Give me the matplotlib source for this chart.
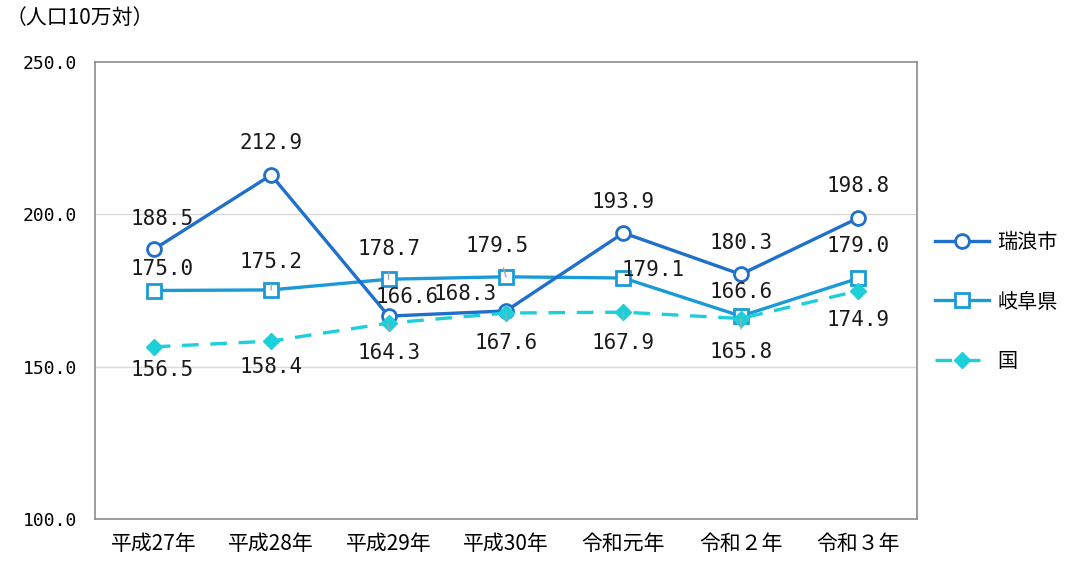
import matplotlib
matplotlib.use("Agg")
import matplotlib.pyplot as plt

plt.rcParams['font.family'] = ['Noto Sans CJK JP', 'DejaVu Sans']

categories = ["平成27年", "平成28年", "平成29年", "平成30年", "令和元年", "令和２年", "令和３年"]
mizunami = [188.5, 212.9, 166.6, 168.3, 193.9, 180.3, 198.8]
gifu = [175.0, 175.2, 178.7, 179.5, 179.1, 166.6, 179.0]
kuni = [156.5, 158.4, 164.3, 167.6, 167.9, 165.8, 174.9]
series_names = ["瑞浪市", "岐阜県", "国"]
yticks = [100, 150, 200, 250]

c1 = "#1f6fcc"
c2 = "#1a9bd7"
c3 = "#1ccfd9"
numfont = ['DejaVu Sans Mono']

fig = plt.figure(figsize=(10.67, 5.63), dpi=100)
ax = fig.add_axes([95/1067, 1-519/563, 822/1067, 457/563])

x = list(range(len(categories)))
l1, = ax.plot(x, mizunami, color=c1, lw=2.4, marker='o', ms=10, mfc='white', mec=c1, mew=2, label=series_names[0], zorder=4)
l2, = ax.plot(x, gifu, color=c2, lw=2.4, marker='s', ms=10, mfc='white', mec=c2, mew=2, label=series_names[1], zorder=3)
l3, = ax.plot(x, kuni, color=c3, lw=2.4, ls=(0, (5, 3.5)), marker='D', ms=8, mfc=c3, mec=c3, label=series_names[2], zorder=5)

ax.set_xlim(-0.5, 6.5)
ax.set_ylim(100, 250)
ax.set_yticks(yticks)
ax.set_yticklabels([f"{v:.1f}" for v in yticks], fontsize=13, family=numfont)
ax.set_xticks(x)
ax.set_xticklabels(categories, fontsize=15)
ax.tick_params(length=0)
ax.tick_params(axis='x', pad=10)
ax.tick_params(axis='y', pad=13)
for y in [150, 200]:
    ax.axhline(y, color='#d9d9d9', lw=1, zorder=1)
for s in ax.spines.values():
    s.set_color('#8c8c8c')
    s.set_linewidth(1.2)

# label offsets in pixels (dx, dy), dy positive = up
off1 = [(8, 30), (0, 32), (18, 19), (-41, 17), (0, 31), (0, 31), (0, 32)]
off2 = [(8, 21), (0, 28), (0, 30), (-9, 31), (30, 8), (0, 24), (0, 32)]
off3 = [(8, -23), (0, -26), (0, -30), (0, -30), (0, -31), (0, -33), (0, -29)]
lead2 = [False, True, True, True, False, False, False]
lead3 = [False, False, True, True, True, True, False]

def label(vals, offs, leads=None):
    for i, (v, (dx, dy)) in enumerate(zip(vals, offs)):
        ap = None
        if leads is not None and leads[i]:
            ap = dict(arrowstyle='-', color='#a6a6a6', lw=1, shrinkA=7, shrinkB=0)
        ax.annotate(f"{v:.1f}", xy=(i, v), xytext=(dx, dy), textcoords='offset pixels',
                    ha='center', va='center', fontsize=15, family=numfont, color='#1a1a1a',
                    arrowprops=ap, zorder=6)

label(mizunami, off1)
label(gifu, off2, lead2)
label(kuni, off3, lead3)

fig.text(6/1067, 1-18/563, "（人口10万対）", fontsize=15, va='center', ha='left')

fig.legend(handles=[l1, l2, l3], labels=series_names, loc='center left',
           bbox_to_anchor=(935/1067, 1-302/563), frameon=False, fontsize=14.5,
           handlelength=2.7, labelspacing=1.9, handletextpad=0.4, borderaxespad=0, borderpad=0)

fig.savefig("out.png", dpi=100)
